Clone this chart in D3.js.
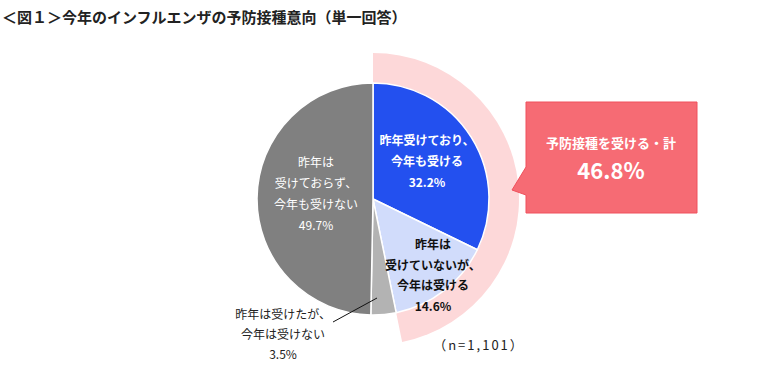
<!DOCTYPE html>
<html><head><meta charset="utf-8">
<script src="https://cdn.jsdelivr.net/npm/d3@7"></script>
<style>
body{margin:0;background:#fff;}
text{font-family:"Noto Sans CJK JP","Noto Sans",sans-serif;}
</style></head>
<body><svg id="c" width="760" height="369"></svg>
<script>
const title = "＜図１＞今年のインフルエンザの予防接種意向（単一回答）";
const categories = ["昨年受けており、今年も受ける","昨年は受けていないが、今年は受ける","昨年は受けたが、今年は受けない","昨年は受けておらず、今年も受けない"];
const values = [32.2, 14.6, 3.5, 49.7];
const colors = ["#2350ef","#d1dcfb","#b3b3b3","#808080"];
const labelLines = [["昨年受けており、","今年も受ける","32.2%"],["昨年は","受けていないが、","今年は受ける","14.6%"],["昨年は受けたが、","今年は受けない","3.5%"],["昨年は","受けておらず、","今年も受けない","49.7%"]];
const totalLabel = "予防接種を受ける・計";
const totalValue = 46.8;
const nLabel = "（n=1,101）";

const svg = d3.select("#c");
const cx = 373, cy = 199, R = 116, R2 = 146;

svg.append("text").attr("x",2).attr("y",23).attr("font-size",15).attr("font-weight","bold").attr("fill","#222").text(title);

const g = svg.append("g").attr("transform",`translate(${cx},${cy})`);
const angle = d3.scaleLinear().domain([0,100]).range([0,2*Math.PI]);

// pink ring
g.append("path").attr("d", d3.arc()({innerRadius:0, outerRadius:R2, startAngle:0, endAngle:angle(totalValue)})).attr("fill","#fdd8d9");

const pie = d3.pie().sort(null).value(d=>d)(values);
const arc = d3.arc().innerRadius(0).outerRadius(R);
g.selectAll("path.s").data(pie).join("path").attr("class","s").attr("d",arc)
 .attr("fill",(d,i)=>colors[i]).attr("stroke","#fff").attr("stroke-width",1.5).attr("stroke-linejoin","round");

// labels
const labelPos = [[54,-54],[60,50],[-90,120],[-57,-32]];
const labelStyle = [{fill:"#fff",w:"bold"},{fill:"#111",w:"bold"},{fill:"#222",w:"normal"},{fill:"#fff",w:"normal"}];
const lh = [21,20.5,20,21];
labelLines.forEach((lines,i)=>{
  const t = g.append("text").attr("text-anchor","middle").attr("font-size",12).attr("fill",labelStyle[i].fill).attr("font-weight",labelStyle[i].w);
  lines.forEach((l,j)=>t.append("tspan").attr("x",labelPos[i][0]).attr("y",labelPos[i][1]+j*lh[i]).text(l));
});
// leader line for small slice
g.append("line").attr("x1",-40).attr("y1",123).attr("x2",4).attr("y2",99).attr("stroke","#111").attr("stroke-width",1);

// callout
const co = svg.append("g");
co.append("path").attr("d","M526,102 H697 V213 H526 V195 L512,190 L526,167 Z").attr("fill","#f66b74").attr("stroke","#f0505c").attr("stroke-width",1);
co.append("text").attr("x",611).attr("y",148).attr("text-anchor","middle").attr("font-size",13).attr("font-weight","bold").attr("fill","#fff").text(totalLabel);
co.append("text").attr("x",611).attr("y",179).attr("text-anchor","middle").attr("font-size",22).attr("font-weight","bold").attr("fill","#fff").text(totalValue.toFixed(1)+"%");

svg.append("text").attr("x",479).attr("y",350).attr("text-anchor","middle").attr("font-size",13).attr("letter-spacing",2).attr("fill","#222").text(nLabel);
</script></body></html>
